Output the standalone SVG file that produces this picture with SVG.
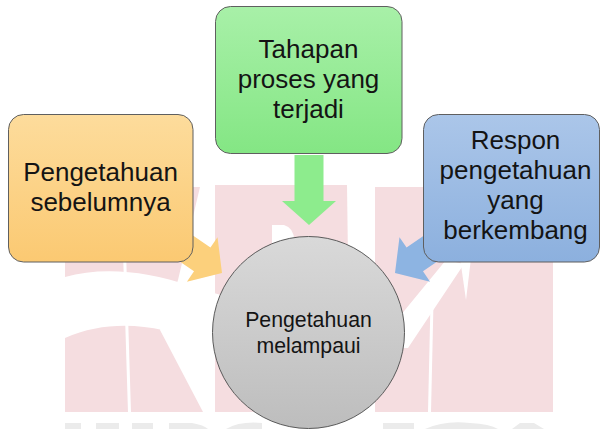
<svg xmlns="http://www.w3.org/2000/svg" width="601" height="429" viewBox="0 0 601 429">
  <style>
    .box { stroke: #5f5f5f; stroke-width: 1; }
    .lbl { font-family: "Liberation Sans", Arial, sans-serif; font-size: 26px; fill: #141414; text-anchor: middle; }
    .lbl-sm { font-family: "Liberation Sans", Arial, sans-serif; font-size: 21.3px; fill: #141414; text-anchor: middle; }
    .wm { fill: #f5dde0; }
    .wm-cut { fill: #ffffff; }
    .wm-gray { fill: #ebebeb; }
  </style>
  <defs>
    <linearGradient id="gOrange" x1="0" y1="0" x2="0" y2="1">
      <stop offset="0" stop-color="#fddc9c"/>
      <stop offset="1" stop-color="#fbc972"/>
    </linearGradient>
    <linearGradient id="gGreen" x1="0" y1="0" x2="0" y2="1">
      <stop offset="0" stop-color="#a8f0a8"/>
      <stop offset="1" stop-color="#84e684"/>
    </linearGradient>
    <linearGradient id="gBlue" x1="0" y1="0" x2="0" y2="1">
      <stop offset="0" stop-color="#abc6e9"/>
      <stop offset="1" stop-color="#8cb0de"/>
    </linearGradient>
    <linearGradient id="gGray" x1="0" y1="0" x2="0" y2="1">
      <stop offset="0" stop-color="#d9d9d9"/>
      <stop offset="1" stop-color="#bdbdbd"/>
    </linearGradient>
    <!-- block arrow, tip at origin, pointing along +x -->
    <polygon id="blockArrow" points="-70,-14.5 -24,-14.5 -24,-27 0,0 -24,27 -24,14.5 -70,14.5"/>
  </defs>

  <rect width="601" height="429" fill="#ffffff"/>

  <!-- faint background watermark -->
  <g id="watermark">
    <polygon class="wm" points="65,187 200,187 178,280 160,330 203,412 65,412"/>
    <polygon class="wm" points="215,185 347,185 350,412 215,412"/>
    <polygon class="wm" points="375,187 553,187 553,412 375,412"/>
    <path class="wm-cut" d="M272,260 L272,225 L284,225 Q294,228 294,240 L294,262 Z"/>
    <path class="wm-cut" d="M121,187 L124,187 L131,412 L128,412 Z"/>
    <path class="wm-cut" d="M431,280 L434,280 L431,412 L428,412 Z"/>
    <path class="wm-cut" d="M460,258 L471,258 L466,300 Z"/>
    <path class="wm-cut" d="M65,277 C100,267 145,270 190,286 L300,318 L400,316 L446,260 L464,264 L408,348 L300,350 L200,342 C160,325 110,318 65,338 Z"/>
    <rect class="wm-gray" x="65" y="423" width="16" height="6"/>
    <rect class="wm-gray" x="96" y="423" width="23" height="6"/>
    <rect class="wm-gray" x="132" y="423" width="21" height="6"/>
    <path class="wm-gray" d="M169,423 L192,423 Q204,425 208,429 L169,429 Z"/>
    <path class="wm-gray" d="M226,429 Q240,421 262,423 L262,429 Z"/>
    <rect class="wm-gray" x="383" y="423" width="31" height="6"/>
    <path class="wm-gray" d="M425,429 Q445,420 470,423 Q490,424 498,429 Z"/>
    <path class="wm-gray" d="M512,429 L520,423 L534,423 L544,429 Z"/>
  </g>

  <g id="connectors">
    <use href="#blockArrow" fill="#fcd07c" transform="translate(222,273) rotate(34.5)"/>
    <use href="#blockArrow" fill="#8dec8d" transform="translate(309,225) rotate(90)"/>
    <use href="#blockArrow" fill="#8db4e2" transform="translate(395,273) rotate(145.5)"/>
  </g>

  <g id="node-prior">
    <rect class="box" x="8.5" y="114.5" width="184.5" height="147.5" rx="15" fill="url(#gOrange)"/>
    <text class="lbl" x="100.5" y="181">Pengetahuan</text>
    <text class="lbl" x="100.5" y="211">sebelumnya</text>
  </g>

  <g id="node-process">
    <rect class="box" x="215.5" y="6.5" width="186.5" height="147" rx="15" fill="url(#gGreen)"/>
    <text class="lbl" x="308.5" y="58">Tahapan</text>
    <text class="lbl" x="308.5" y="88">proses yang</text>
    <text class="lbl" x="308.5" y="118">terjadi</text>
  </g>

  <g id="node-response">
    <rect class="box" x="423.5" y="114.5" width="176" height="147.5" rx="15" fill="url(#gBlue)"/>
    <text class="lbl" x="515.5" y="148.5">Respon</text>
    <text class="lbl" x="515.5" y="178.5">pengetahuan</text>
    <text class="lbl" x="515.5" y="208.5">yang</text>
    <text class="lbl" x="515.5" y="238.5">berkembang</text>
  </g>

  <g id="node-result">
    <circle cx="308.5" cy="332.5" r="96" fill="url(#gGray)" stroke="#5a5a5a" stroke-width="1"/>
    <text class="lbl-sm" x="308.5" y="327">Pengetahuan</text>
    <text class="lbl-sm" x="308.5" y="353">melampaui</text>
  </g>
</svg>
